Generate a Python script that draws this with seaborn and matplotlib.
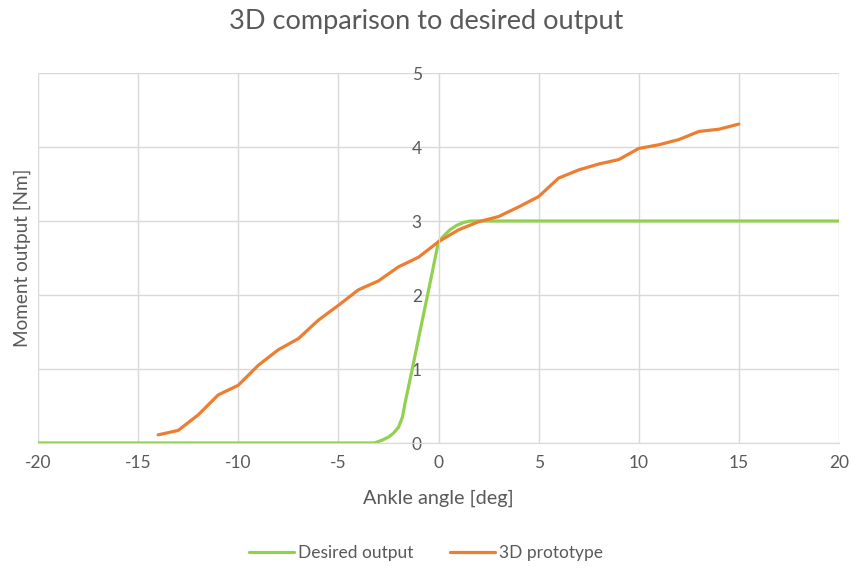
import numpy as np
import pandas as pd
import matplotlib
matplotlib.use('Agg')
import matplotlib.pyplot as plt
import seaborn as sns

# 期望输出 (绿色)
desired_x = [-20, -15, -10, -5, -4, -3.2, -2.8, -2.5, -2.26, -2.0, -1.8, -1.67, -1.31, -1.0, -0.5, 0.0,
             0.3, 0.57, 0.9, 1.24, 1.6, 2, 5, 10, 15, 20]
desired_y = [0, 0, 0, 0, 0, 0, 0.04, 0.08, 0.13, 0.21, 0.35, 0.54, 1.0, 1.41, 2.06, 2.72,
             2.81, 2.88, 2.94, 2.98, 3.0, 3, 3, 3, 3, 3]

# 3D 原型 (橙色)
proto_x = list(range(-14, 16))
proto_y = [0.11, 0.17, 0.38, 0.65, 0.78, 1.05, 1.26, 1.41, 1.66, 1.86,
           2.07, 2.19, 2.38, 2.51, 2.72, 2.88, 2.99, 3.06, 3.19, 3.33,
           3.58, 3.69, 3.77, 3.83, 3.98, 4.03, 4.10, 4.21, 4.24, 4.31]

labels = ['Desired output', '3D prototype']
colors = ['#92D050', '#ED7D31']

df = pd.concat([
    pd.DataFrame({'x': desired_x, 'y': desired_y, 's': labels[0]}),
    pd.DataFrame({'x': proto_x, 'y': proto_y, 's': labels[1]}),
])

sns.set_style('white')
plt.rcParams['font.family'] = ['Lato', 'DejaVu Sans']
plt.rcParams['axes.unicode_minus'] = False
grey = '#595959'

fig = plt.figure(figsize=(8.52, 5.66), dpi=100)
ax = fig.add_axes([38/852, 1-443/566, (839-38)/852, (443-73)/566])
sns.lineplot(data=df, x='x', y='y', hue='s', palette=colors, sort=False,
             estimator=None, linewidth=2.3, ax=ax, legend=False)

ax.set_xlim(-20, 20)
ax.set_ylim(0, 5)
ax.set_xticks(range(-20, 21, 5))
ax.set_yticks(range(0, 6))
ax.grid(True, color='#D9D9D9', linewidth=1)
ax.set_axisbelow(True)
for s in ['top', 'right']:
    ax.spines[s].set_visible(False)
ax.spines['left'].set_position(('data', 0))
ax.spines['left'].set_color('#D9D9D9')
ax.spines['bottom'].set_color('#D9D9D9')
ax.tick_params(length=0, labelsize=12.5, colors=grey)
ax.tick_params(axis='x', pad=9)
ax.tick_params(axis='y', pad=12)

ax.set_ylabel('')
ax.set_xlabel('Ankle angle [deg]', fontsize=14.3, color=grey, labelpad=13)
fig.text(22/852, 1-258/566, 'Moment output [Nm]', rotation=90, fontsize=13.6,
         color=grey, ha='center', va='center')
fig.text(0.5, 1-22/566, '3D comparison to desired output', fontsize=19.5,
         color=grey, ha='center', va='center')

handles = [plt.Line2D([], [], color=c, linewidth=2.3) for c in colors]
fig.legend(handles, labels, loc='center', bbox_to_anchor=(0.5, 1-553/566), ncol=2,
           frameon=False, fontsize=12.5, labelcolor=grey, handlelength=2.6,
           handletextpad=0.25, columnspacing=2.1)

fig.savefig('out.png', dpi=100)
